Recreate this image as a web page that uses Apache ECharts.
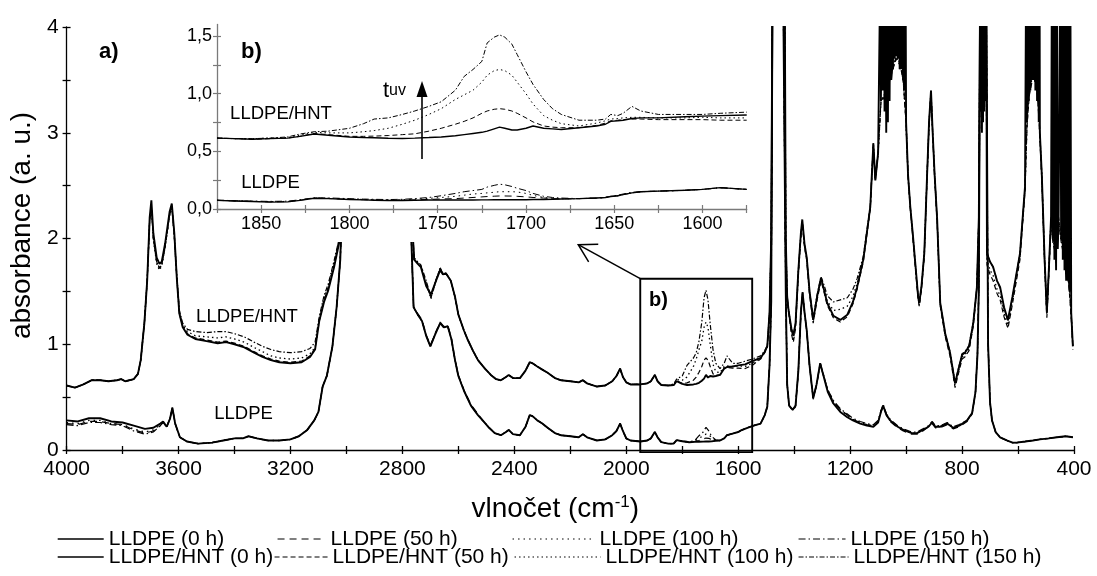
<!DOCTYPE html>
<html><head><meta charset="utf-8">
<script src="https://cdn.jsdelivr.net/npm/echarts@6/dist/echarts.min.js"></script>
<style>html,body{margin:0;padding:0;background:#fff}#c{width:1097px;height:576px}</style>
</head><body><div id="c"></div>
<script>
const FONT = "'Liberation Sans', Arial, Helvetica, sans-serif";

const seriesNames = ['LLDPE (0 h)','LLDPE (50 h)','LLDPE (100 h)','LLDPE (150 h)',
  'LLDPE/HNT (0 h)','LLDPE/HNT (50 h)','LLDPE/HNT (100 h)','LLDPE/HNT (150 h)'];

// ---------- main panel a): LLDPE spectra ----------
const wnL = [4000,3960,3920,3880,3840,3800,3760,3720,3690,3665,
 3655,3642,3630,3622,3612,3595,3570,3530,3480,3440,
 3400,3370,3350,3320,3280,3240,3200,3170,3140,3115,
 3100,3085,3070,3050,3035,3022,3012,3000,2900,2800,
 2775,2768,2760,2745,2730,2715,2700,2685,2665,2652,
 2638,2625,2612,2600,2580,2555,2530,2510,2490,2470,
 2448,2430,2420,2405,2380,2360,2345,2335,2318,2300,
 2281,2255,2234,2200,2170,2155,2140,2105,2075,2050,
 2035,2022,2012,2000,1985,1950,1925,1912,1898,1888,
 1875,1850,1830,1820,1800,1775,1755,1740,1725,1715,
 1705,1695,1680,1665,1650,1640,1620,1600,1590,1567,
 1545,1520,1505,1496,1488,1482,1477,1440,1434,1430,
 1425,1418,1405,1395,1385,1376,1370,1362,1355,1345,
 1332,1320,1307,1295,1280,1260,1235,1210,1190,1164,
 1140,1117,1100,1090,1082,1070,1057,1030,1010,980,
 961,940,920,907,895,878,853,832,810,782,
 764,752,745,740,735,714,707,700,693,680,
 664,640,620,604,575,547,522,490,461,430,
 404];
const lldpe0 = [0.28,0.27,0.30,0.30,0.27,0.26,0.23,0.20,0.21,0.25,
 0.27,0.22,0.30,0.40,0.25,0.12,0.08,0.06,0.07,0.09,
 0.11,0.11,0.13,0.11,0.09,0.09,0.10,0.13,0.19,0.28,
 0.36,0.60,0.70,0.98,1.35,1.80,2.60,4.6,4.6,4.6,
 4.6,2.0,1.35,1.28,1.22,1.08,0.98,1.08,1.20,1.16,
 1.17,1.05,0.85,0.70,0.56,0.42,0.33,0.27,0.21,0.16,
 0.14,0.17,0.19,0.15,0.14,0.22,0.33,0.32,0.28,0.25,
 0.21,0.16,0.14,0.13,0.12,0.15,0.12,0.09,0.10,0.14,
 0.18,0.25,0.18,0.11,0.09,0.08,0.09,0.11,0.17,0.12,
 0.075,0.06,0.062,0.093,0.083,0.073,0.077,0.078,0.079,0.08,
 0.08,0.082,0.087,0.09,0.11,0.14,0.155,0.17,0.185,0.21,
 0.23,0.25,0.33,0.41,0.80,1.40,4.6,4.6,4.6,1.50,
 0.62,0.42,0.38,0.42,0.75,1.30,1.49,1.28,1.13,0.80,
 0.49,0.62,0.82,0.70,0.55,0.44,0.36,0.31,0.28,0.25,
 0.23,0.22,0.26,0.36,0.42,0.33,0.28,0.22,0.19,0.16,
 0.16,0.19,0.22,0.26,0.22,0.22,0.25,0.21,0.23,0.28,
 0.35,0.55,0.90,1.54,4.6,4.6,1.0,0.45,0.28,0.17,
 0.12,0.09,0.07,0.07,0.08,0.09,0.10,0.11,0.12,0.13,
 0.12];
const lldpe50 = [0.25,0.24,0.27,0.27,0.25,0.24,0.19,0.16,0.18,0.23,
 0.26,0.22,0.30,0.40,0.25,0.12,0.08,0.06,0.07,0.09,
 0.11,0.11,0.13,0.11,0.09,0.09,0.10,0.13,0.19,0.28,
 0.36,0.60,0.70,0.98,1.35,1.80,2.60,4.6,4.6,4.6,
 4.6,2.0,1.36,1.29,1.23,1.09,0.99,1.09,1.21,1.17,
 1.18,1.06,0.86,0.71,0.57,0.43,0.34,0.27,0.21,0.16,
 0.14,0.17,0.19,0.15,0.14,0.22,0.33,0.32,0.28,0.25,
 0.21,0.16,0.14,0.13,0.12,0.15,0.12,0.09,0.10,0.14,
 0.18,0.25,0.18,0.11,0.09,0.08,0.09,0.11,0.17,0.12,
 0.075,0.06,0.062,0.093,0.083,0.075,0.082,0.09,0.105,0.113,
 0.11,0.10,0.09,0.09,0.11,0.14,0.155,0.17,0.185,0.21,
 0.23,0.25,0.33,0.41,0.80,1.40,4.6,4.6,4.6,1.50,
 0.62,0.42,0.37,0.41,0.74,1.29,1.48,1.27,1.12,0.79,
 0.48,0.61,0.81,0.70,0.56,0.46,0.38,0.33,0.29,0.26,
 0.24,0.23,0.27,0.36,0.41,0.33,0.27,0.21,0.18,0.15,
 0.15,0.18,0.22,0.25,0.21,0.21,0.24,0.20,0.22,0.27,
 0.34,0.55,0.90,1.54,4.6,4.6,1.0,0.45,0.28,0.17,
 0.12,0.09,0.07,0.07,0.08,0.09,0.10,0.11,0.12,0.13,
 0.12];
const lldpe100 = [0.26,0.25,0.28,0.28,0.25,0.24,0.20,0.17,0.19,0.24,
 0.26,0.22,0.30,0.40,0.25,0.12,0.08,0.06,0.07,0.09,
 0.11,0.11,0.13,0.11,0.09,0.09,0.10,0.13,0.19,0.28,
 0.36,0.60,0.70,0.98,1.35,1.80,2.60,4.6,4.6,4.6,
 4.6,2.0,1.35,1.28,1.22,1.08,0.98,1.08,1.20,1.16,
 1.17,1.05,0.85,0.70,0.56,0.42,0.33,0.27,0.21,0.16,
 0.14,0.17,0.19,0.15,0.14,0.22,0.33,0.32,0.28,0.25,
 0.21,0.16,0.14,0.13,0.12,0.15,0.12,0.09,0.10,0.14,
 0.18,0.25,0.18,0.11,0.09,0.08,0.09,0.11,0.17,0.12,
 0.075,0.06,0.062,0.093,0.083,0.075,0.085,0.11,0.135,0.15,
 0.148,0.115,0.09,0.09,0.11,0.14,0.155,0.17,0.185,0.21,
 0.23,0.25,0.33,0.41,0.80,1.40,4.6,4.6,4.6,1.50,
 0.62,0.42,0.38,0.42,0.75,1.30,1.49,1.28,1.13,0.80,
 0.49,0.62,0.82,0.71,0.57,0.46,0.38,0.33,0.29,0.26,
 0.24,0.23,0.27,0.37,0.42,0.34,0.28,0.22,0.19,0.16,
 0.16,0.19,0.22,0.26,0.22,0.22,0.25,0.21,0.23,0.28,
 0.35,0.55,0.90,1.54,4.6,4.6,1.0,0.45,0.28,0.17,
 0.12,0.09,0.07,0.07,0.08,0.09,0.10,0.11,0.12,0.13,
 0.12];
const lldpe150 = [0.24,0.23,0.26,0.26,0.24,0.23,0.18,0.15,0.17,0.23,
 0.26,0.22,0.30,0.40,0.25,0.12,0.08,0.06,0.07,0.09,
 0.11,0.11,0.13,0.11,0.09,0.09,0.10,0.13,0.19,0.28,
 0.36,0.60,0.70,0.98,1.35,1.80,2.60,4.6,4.6,4.6,
 4.6,2.0,1.35,1.28,1.22,1.08,0.98,1.08,1.20,1.16,
 1.17,1.05,0.85,0.70,0.56,0.42,0.33,0.27,0.21,0.16,
 0.14,0.17,0.19,0.15,0.14,0.22,0.33,0.32,0.28,0.25,
 0.21,0.16,0.14,0.13,0.12,0.15,0.12,0.09,0.10,0.14,
 0.18,0.25,0.18,0.11,0.09,0.08,0.09,0.11,0.17,0.12,
 0.075,0.06,0.062,0.095,0.085,0.078,0.09,0.135,0.17,0.215,
 0.18,0.13,0.095,0.09,0.11,0.14,0.155,0.17,0.185,0.21,
 0.23,0.25,0.33,0.41,0.80,1.40,4.6,4.6,4.6,1.50,
 0.62,0.42,0.38,0.42,0.75,1.30,1.49,1.28,1.13,0.80,
 0.49,0.62,0.82,0.71,0.57,0.47,0.39,0.34,0.30,0.27,
 0.25,0.24,0.28,0.37,0.43,0.34,0.29,0.23,0.20,0.17,
 0.17,0.20,0.23,0.27,0.23,0.23,0.26,0.22,0.24,0.28,
 0.35,0.55,0.90,1.54,4.6,4.6,1.0,0.45,0.28,0.17,
 0.12,0.09,0.07,0.07,0.08,0.09,0.10,0.11,0.12,0.13,
 0.12];

// ---------- main panel a): LLDPE/HNT spectra ----------
const wnH = [4000,3970,3940,3910,3880,3850,3820,3805,3790,3760,
 3745,3735,3722,3712,3703,3697,3690,3678,3668,3660,
 3648,3632,3624,3615,3606,3597,3585,3568,3540,3500,
 3460,3430,3400,3365,3330,3300,3270,3240,3200,3160,
 3130,3112,3097,3080,3065,3044,3026,3010,3000,2900,
 2800,2780,2770,2758,2745,2734,2715,2698,2680,2665,
 2655,2644,2627,2612,2600,2580,2566,2548,2530,2505,
 2484,2465,2448,2430,2420,2405,2380,2360,2345,2335,
 2318,2300,2281,2255,2234,2200,2170,2155,2140,2105,
 2075,2050,2035,2022,2012,2000,1985,1950,1925,1912,
 1898,1888,1875,1850,1830,1820,1800,1783,1760,1750,
 1740,1730,1722,1715,1708,1700,1690,1680,1665,1650,
 1640,1620,1600,1575,1550,1520,1505,1496,1488,1482,
 1477,1434,1430,1425,1420,1410,1403,1395,1385,1376,
 1371,1363,1355,1345,1332,1318,1304,1292,1282,1260,
 1235,1210,1190,1175,1153,1128,1117,1110,1100,1090,
 1070,1050,1035,1020,1010,1000,993,985,975,965,
 957,953,945,935,925,918,911,905,898,889,
 878,860,843,825,815,800,790,775,760,747,
 740,735,714,711,700,689,675,664,650,636,
 620,593,575,568,560,545,530,522,515,505,
 497,490,482,475,465,455,445,430,418,410,
 404];
const hnt0 = [0.61,0.59,0.62,0.66,0.66,0.65,0.66,0.67,0.65,0.67,
 0.72,0.85,1.20,1.60,2.20,2.36,2.05,1.82,1.76,1.78,
 1.95,2.25,2.33,2.05,1.62,1.29,1.16,1.09,1.05,1.03,
 1.01,1.02,1.00,0.97,0.92,0.88,0.85,0.83,0.82,0.83,
 0.88,0.95,1.22,1.40,1.51,1.73,1.96,2.8,4.6,4.6,
 4.6,4.6,2.4,1.80,1.76,1.73,1.55,1.47,1.60,1.70,
 1.66,1.67,1.60,1.45,1.28,1.13,1.04,0.94,0.85,0.77,
 0.71,0.67,0.66,0.69,0.71,0.68,0.68,0.75,0.83,0.82,
 0.79,0.76,0.73,0.68,0.66,0.65,0.64,0.66,0.63,0.60,
 0.61,0.65,0.70,0.77,0.69,0.64,0.62,0.62,0.63,0.65,
 0.71,0.65,0.615,0.61,0.615,0.65,0.625,0.615,0.62,0.625,
 0.635,0.655,0.675,0.71,0.685,0.70,0.695,0.70,0.71,0.77,
 0.785,0.79,0.80,0.81,0.84,0.87,0.93,0.98,1.30,2.0,
 4.6,4.6,2.0,1.45,1.32,1.15,1.08,1.20,1.70,2.05,
 2.18,1.95,1.82,1.50,1.23,1.45,1.63,1.50,1.39,1.27,
 1.23,1.28,1.40,1.54,1.80,2.30,2.90,2.55,2.81,3.30,
 3.40,3.60,3.72,3.65,3.50,3.10,2.60,2.30,2.01,1.70,
 1.45,1.39,1.55,1.86,2.60,3.10,3.40,3.00,2.60,2.18,
 1.39,1.10,0.92,0.63,0.74,0.90,0.92,0.98,1.20,1.54,
 2.2,4.6,4.6,1.86,1.78,1.73,1.60,1.54,1.35,1.23,
 1.45,1.86,2.49,3.1,3.4,3.6,3.4,3.0,2.6,1.8,
 1.30,1.7,2.2,2.0,1.9,2.2,2.0,1.8,1.6,1.3,
 0.98];
const hnt50 = [0.61,0.59,0.62,0.66,0.66,0.65,0.66,0.67,0.65,0.67,
 0.72,0.85,1.20,1.60,2.18,2.30,2.00,1.78,1.72,1.75,
 1.92,2.22,2.30,2.02,1.62,1.29,1.17,1.10,1.06,1.04,
 1.02,1.03,1.01,0.98,0.93,0.89,0.86,0.84,0.83,0.84,
 0.89,0.96,1.22,1.42,1.53,1.75,1.98,2.8,4.6,4.6,
 4.6,4.6,2.4,1.80,1.77,1.74,1.57,1.44,1.60,1.72,
 1.67,1.67,1.60,1.45,1.28,1.13,1.04,0.94,0.85,0.77,
 0.71,0.67,0.66,0.69,0.71,0.68,0.68,0.75,0.83,0.82,
 0.79,0.76,0.73,0.68,0.66,0.65,0.64,0.66,0.63,0.60,
 0.61,0.65,0.70,0.77,0.69,0.64,0.62,0.62,0.63,0.65,
 0.71,0.65,0.615,0.61,0.615,0.655,0.63,0.635,0.66,0.69,
 0.735,0.79,0.85,0.87,0.85,0.79,0.72,0.705,0.71,0.775,
 0.78,0.775,0.775,0.77,0.80,0.86,0.92,0.97,1.28,2.0,
 4.6,4.6,2.0,1.43,1.30,1.10,1.02,1.15,1.66,2.02,
 2.14,1.92,1.79,1.47,1.20,1.42,1.60,1.48,1.37,1.25,
 1.21,1.26,1.38,1.52,1.78,2.28,2.88,2.55,2.80,3.28,
 3.38,3.58,3.70,3.63,3.48,3.08,2.58,2.28,1.98,1.66,
 1.42,1.36,1.52,1.83,2.58,3.08,3.38,2.98,2.58,2.15,
 1.36,1.07,0.89,0.59,0.70,0.86,0.88,0.94,1.17,1.52,
 2.2,4.6,4.6,1.75,1.66,1.60,1.48,1.42,1.26,1.15,
 1.38,1.80,2.45,3.05,3.35,3.55,3.35,2.95,2.55,1.75,
 1.25,1.65,2.15,1.95,1.85,2.15,1.95,1.75,1.55,1.25,
 0.95];
const hnt100 = [0.61,0.59,0.62,0.66,0.66,0.65,0.66,0.67,0.65,0.67,
 0.72,0.85,1.20,1.60,2.18,2.30,2.00,1.76,1.70,1.74,
 1.92,2.22,2.30,2.02,1.63,1.30,1.18,1.12,1.08,1.07,
 1.06,1.07,1.05,1.02,0.97,0.93,0.89,0.87,0.86,0.87,
 0.91,0.97,1.24,1.44,1.55,1.77,2.0,2.8,4.6,4.6,
 4.6,4.6,2.4,1.80,1.77,1.74,1.58,1.43,1.60,1.72,
 1.67,1.67,1.60,1.45,1.28,1.13,1.04,0.94,0.85,0.77,
 0.71,0.67,0.66,0.69,0.71,0.68,0.68,0.75,0.83,0.82,
 0.79,0.76,0.73,0.68,0.66,0.65,0.64,0.66,0.63,0.60,
 0.61,0.65,0.70,0.77,0.69,0.64,0.62,0.62,0.63,0.65,
 0.71,0.65,0.615,0.61,0.62,0.665,0.66,0.69,0.79,0.86,
 0.95,1.03,1.16,1.21,1.16,1.00,0.81,0.74,0.73,0.79,
 0.795,0.79,0.795,0.79,0.82,0.87,0.93,0.98,1.29,2.0,
 4.6,4.6,2.0,1.44,1.31,1.12,1.05,1.18,1.68,2.03,
 2.16,1.93,1.80,1.49,1.22,1.44,1.62,1.52,1.41,1.32,
 1.33,1.36,1.45,1.58,1.80,2.29,2.89,2.55,2.80,3.29,
 3.39,3.59,3.71,3.64,3.49,3.09,2.59,2.29,2.0,1.68,
 1.44,1.37,1.53,1.85,2.59,3.09,3.39,2.99,2.59,2.17,
 1.37,1.08,0.90,0.61,0.72,0.88,0.90,0.96,1.19,1.53,
 2.2,4.6,4.6,1.80,1.70,1.65,1.52,1.46,1.29,1.18,
 1.41,1.83,2.47,3.08,3.38,3.58,3.38,2.98,2.58,1.78,
 1.28,1.68,2.18,1.98,1.88,2.18,1.98,1.78,1.58,1.28,
 0.97];
const hnt150 = [0.61,0.59,0.62,0.66,0.66,0.65,0.66,0.67,0.65,0.67,
 0.72,0.85,1.20,1.60,2.18,2.30,2.00,1.78,1.72,1.75,
 1.92,2.22,2.30,2.03,1.65,1.32,1.20,1.14,1.12,1.11,
 1.12,1.12,1.10,1.07,1.02,0.98,0.95,0.93,0.92,0.93,
 0.96,1.02,1.26,1.46,1.57,1.79,2.0,2.8,4.6,4.6,
 4.6,4.6,2.4,1.82,1.78,1.75,1.60,1.45,1.61,1.72,
 1.67,1.67,1.60,1.45,1.28,1.13,1.04,0.94,0.85,0.77,
 0.71,0.67,0.66,0.69,0.71,0.68,0.68,0.75,0.83,0.82,
 0.79,0.76,0.73,0.68,0.66,0.65,0.64,0.66,0.63,0.60,
 0.61,0.65,0.70,0.77,0.69,0.64,0.62,0.62,0.63,0.65,
 0.71,0.65,0.615,0.61,0.625,0.67,0.70,0.80,0.87,0.92,
 1.03,1.21,1.44,1.51,1.42,1.19,0.95,0.82,0.77,0.82,
 0.89,0.82,0.82,0.84,0.86,0.89,0.94,0.99,1.30,2.0,
 4.6,4.6,2.0,1.46,1.33,1.14,1.08,1.20,1.70,2.04,
 2.17,1.94,1.81,1.50,1.25,1.47,1.64,1.55,1.46,1.40,
 1.42,1.44,1.52,1.62,1.83,2.31,2.90,2.56,2.81,3.30,
 3.40,3.60,3.72,3.65,3.50,3.10,2.60,2.30,2.01,1.70,
 1.45,1.39,1.55,1.86,2.60,3.10,3.40,3.00,2.60,2.18,
 1.39,1.10,0.93,0.64,0.75,0.91,0.93,0.99,1.21,1.54,
 2.2,4.6,4.6,1.86,1.78,1.73,1.60,1.53,1.34,1.22,
 1.44,1.86,2.49,3.1,3.4,3.6,3.4,3.0,2.6,1.8,
 1.30,1.7,2.2,2.0,1.9,2.2,2.0,1.8,1.6,1.3,
 0.98];
// saturated, noisy LLDPE/HNT (0 h) bands, read as upper/lower envelope of the black areas
const noiseWn = [1092,1089,1086,1083,1080,1077,1074,1071,1068,1065,1062,1059,1056,1053,1050,1047,1044,1041,1038,1035,1032,1029,1026,1023,1020,1017,1014,1011,1008,1005,1002,
 733,731,729,727,725,723,721,719,717,
 571,568,565,562,559,556,553,550,547,544,541,538,535,532,529,526,523,
 479,476,473,470,467,464,461,458,449,446,443,440,437,434,431,428,425,422,419,416,413,410];
const noiseAbs = [4.6,3.3,4.6,3.4,4.6,3.2,4.6,3.0,4.6,3.1,4.6,3.3,4.6,3.5,4.6,3.6,4.6,3.7,4.6,3.8,4.6,3.7,4.6,3.6,4.6,3.6,4.6,3.5,4.6,3.4,4.6,
 3.2,4.6,3.0,4.6,3.1,4.6,3.2,4.6,3.3,
 4.6,3.1,4.6,3.3,4.6,3.4,4.6,3.5,4.6,3.5,4.6,3.4,4.6,3.3,4.6,3.1,4.6,
 4.6,2.0,4.6,1.8,4.6,1.7,4.6,1.9,4.6,2.0,4.6,1.8,4.6,1.7,4.6,1.6,4.6,1.6,4.6,1.5,4.6,1.3];

// ---------- inset b): carbonyl region ----------
const wnI = [1875,1865,1855,1845,1835,1828,1820,1812,1800,1792,
 1786,1778,1770,1763,1755,1748,1740,1735,1730,1725,
 1722,1718,1715,1712,1708,1705,1700,1696,1690,1685,
 1680,1670,1660,1655,1652,1648,1645,1640,1635,1625,
 1610,1600,1590,1575];
const iL0 = [0.075,0.07,0.065,0.06,0.062,0.075,0.093,0.09,0.083,0.079,
 0.076,0.073,0.074,0.076,0.078,0.078,0.078,0.078,0.078,0.079,
 0.079,0.08,0.08,0.08,0.08,0.08,0.08,0.082,0.083,0.085,
 0.087,0.09,0.095,0.10,0.108,0.115,0.125,0.14,0.15,0.155,
 0.162,0.17,0.185,0.17];
const iL50 = [0.075,0.07,0.066,0.062,0.064,0.076,0.094,0.091,0.084,0.080,
 0.078,0.076,0.077,0.079,0.083,0.087,0.09,0.095,0.10,0.105,
 0.108,0.111,0.113,0.113,0.112,0.11,0.105,0.10,0.095,0.09,
 0.088,0.09,0.095,0.10,0.108,0.115,0.125,0.14,0.15,0.155,
 0.162,0.17,0.185,0.17];
const iL100 = [0.076,0.071,0.067,0.064,0.066,0.078,0.095,0.093,0.087,0.083,
 0.081,0.079,0.081,0.085,0.092,0.10,0.11,0.12,0.13,0.135,
 0.14,0.145,0.15,0.15,0.15,0.148,0.135,0.118,0.10,0.092,
 0.088,0.09,0.095,0.10,0.108,0.115,0.125,0.14,0.15,0.155,
 0.162,0.17,0.185,0.17];
const iL150 = [0.077,0.072,0.068,0.066,0.068,0.08,0.097,0.096,0.09,0.086,
 0.084,0.082,0.084,0.09,0.10,0.115,0.135,0.15,0.16,0.17,
 0.19,0.205,0.215,0.21,0.195,0.18,0.16,0.135,0.11,0.10,
 0.095,0.09,0.095,0.10,0.11,0.12,0.13,0.145,0.15,0.155,
 0.162,0.17,0.185,0.17];
const iH0 = [0.615,0.61,0.605,0.61,0.615,0.63,0.65,0.64,0.625,0.62,
 0.618,0.613,0.612,0.615,0.62,0.625,0.635,0.645,0.655,0.665,
 0.675,0.695,0.71,0.70,0.685,0.685,0.70,0.72,0.70,0.695,
 0.69,0.705,0.72,0.735,0.76,0.765,0.77,0.785,0.79,0.79,
 0.80,0.805,0.81,0.815];
const iH50 = [0.615,0.61,0.605,0.61,0.615,0.63,0.655,0.645,0.63,0.63,
 0.632,0.637,0.645,0.652,0.675,0.70,0.735,0.76,0.79,0.83,
 0.85,0.865,0.87,0.865,0.85,0.83,0.79,0.755,0.72,0.71,
 0.705,0.705,0.725,0.745,0.765,0.77,0.775,0.78,0.78,0.775,
 0.775,0.775,0.77,0.77];
const iH100 = [0.615,0.61,0.61,0.615,0.62,0.64,0.665,0.66,0.66,0.67,
 0.68,0.70,0.735,0.77,0.82,0.87,0.95,0.99,1.03,1.10,
 1.16,1.20,1.21,1.20,1.16,1.10,1.00,0.91,0.81,0.77,
 0.74,0.72,0.745,0.765,0.78,0.785,0.79,0.795,0.795,0.79,
 0.79,0.795,0.79,0.79];
const iH150 = [0.615,0.61,0.61,0.615,0.625,0.65,0.67,0.675,0.70,0.74,
 0.78,0.79,0.82,0.85,0.89,0.93,1.03,1.15,1.21,1.28,
 1.44,1.49,1.51,1.49,1.43,1.34,1.19,1.08,0.95,0.87,
 0.82,0.77,0.77,0.78,0.82,0.81,0.83,0.89,0.85,0.82,
 0.82,0.82,0.83,0.84];

// region of panel a) shown enlarged in b)
const zoomBox = {from: 1950, to: 1550, top: 1.62, bottom: -0.02};

// ---------- build ----------
function pairs(wn, v) { return wn.map((w, i) => [w, v[i]]); }
function withNoise(wn, v, nw, nv) {
  const a = pairs(wn, v).concat(pairs(nw, nv));
  a.sort((p, q) => q[0] - p[0]);
  return a;
}
const mainData = {
  'LLDPE (0 h)': pairs(wnL, lldpe0), 'LLDPE (50 h)': pairs(wnL, lldpe50),
  'LLDPE (100 h)': pairs(wnL, lldpe100), 'LLDPE (150 h)': pairs(wnL, lldpe150),
  'LLDPE/HNT (0 h)': withNoise(wnH, hnt0, noiseWn, noiseAbs), 'LLDPE/HNT (50 h)': pairs(wnH, hnt50),
  'LLDPE/HNT (100 h)': pairs(wnH, hnt100), 'LLDPE/HNT (150 h)': pairs(wnH, hnt150)
};
const insetData = {
  'LLDPE (0 h)': pairs(wnI, iL0), 'LLDPE (50 h)': pairs(wnI, iL50),
  'LLDPE (100 h)': pairs(wnI, iL100), 'LLDPE (150 h)': pairs(wnI, iL150),
  'LLDPE/HNT (0 h)': pairs(wnI, iH0), 'LLDPE/HNT (50 h)': pairs(wnI, iH50),
  'LLDPE/HNT (100 h)': pairs(wnI, iH100), 'LLDPE/HNT (150 h)': pairs(wnI, iH150)
};
const lineStyles = {
  'LLDPE (0 h)': {type: 'solid', width: 1.9, solid: true},
  'LLDPE (50 h)': {type: [7, 5], width: 1.2},
  'LLDPE (100 h)': {type: [1.5, 4], width: 1.3},
  'LLDPE (150 h)': {type: [7, 3, 1.5, 3], width: 1.2},
  'LLDPE/HNT (0 h)': {type: 'solid', width: 1.9, solid: true},
  'LLDPE/HNT (50 h)': {type: [5, 3], width: 1.2},
  'LLDPE/HNT (100 h)': {type: [1.5, 3], width: 1.3},
  'LLDPE/HNT (150 h)': {type: [5, 2, 1.5, 2], width: 1.2}
};
const series = [];
seriesNames.forEach(n => {
  const ls = lineStyles[n];
  series.push({name: n, type: 'line', xAxisIndex: 0, yAxisIndex: 0, data: mainData[n],
    symbol: 'none', showSymbol: false, silent: true, z: 2,
    lineStyle: {color: '#000', width: ls.width, type: ls.type}});
  series.push({name: n, type: 'line', xAxisIndex: 2, yAxisIndex: 2, data: insetData[n],
    symbol: 'none', showSymbol: false, silent: true, z: 6,
    lineStyle: {color: '#000', width: ls.solid ? 1.4 : 1.0, type: ls.type}});
});

const legendLayout = [
  {name: 'LLDPE (0 h)', left: 57, top: 528.5, w: 46},
  {name: 'LLDPE (50 h)', left: 277, top: 528.5, w: 48},
  {name: 'LLDPE (100 h)', left: 512, top: 528.5, w: 82},
  {name: 'LLDPE (150 h)', left: 798, top: 528.5, w: 47},
  {name: 'LLDPE/HNT (0 h)', left: 57, top: 546.5, w: 46},
  {name: 'LLDPE/HNT (50 h)', left: 274, top: 546.5, w: 53},
  {name: 'LLDPE/HNT (100 h)', left: 514, top: 546.5, w: 86},
  {name: 'LLDPE/HNT (150 h)', left: 798, top: 546.5, w: 50}
];
const legends = legendLayout.map(p => ({
  data: [p.name], left: p.left, top: p.top, orient: 'horizontal',
  itemWidth: p.w, itemHeight: 10, itemGap: 0, padding: 0, selectedMode: false,
  textStyle: {fontSize: 21, color: '#000', fontFamily: FONT},
  itemStyle: {opacity: 0},
  lineStyle: {color: '#000', width: lineStyles[p.name].solid ? 1.4 : 1.1, type: lineStyles[p.name].type}
}));

const black = '#000', grey = '#7a7a7a';
const option = {
  animation: false,
  backgroundColor: '#fff',
  textStyle: {fontFamily: FONT},
  grid: [
    {left: 65, top: 27, width: 1009, height: 423},
    {left: 217, top: 24.5, width: 529.7, height: 184.5}
  ],
  legend: legends,
  xAxis: [
    {gridIndex: 0, type: 'value', min: 400, max: 4000, interval: 200, inverse: true, position: 'bottom',
     axisLine: {lineStyle: {color: black, width: 1.3}},
     axisTick: {length: 4, lineStyle: {color: black, width: 1.3}},
     axisLabel: {margin: 9, color: black, fontSize: 21, fontFamily: FONT, formatter: v => (v % 400 === 0 ? String(v) : '')},
     splitLine: {show: false},
     name: '{a|vlnočet (cm}{s|-1}{a|)}', nameLocation: 'middle', nameGap: 44,
     nameTextStyle: {color: black, padding: [0, 30, 0, 0], rich: {
       a: {fontSize: 28, fontFamily: FONT, color: black, lineHeight: 30},
       s: {fontSize: 17, fontFamily: FONT, color: black, verticalAlign: 'top', lineHeight: 17}}}},
    {gridIndex: 0, type: 'value', min: 400, max: 4000, interval: 200, inverse: true, position: 'bottom',
     axisLine: {show: false}, axisTick: {inside: true, length: 4, lineStyle: {color: black, width: 1.3}},
     axisLabel: {show: false}, splitLine: {show: false}},
    {gridIndex: 1, type: 'value', min: 1575, max: 1875, interval: 25, inverse: true, position: 'bottom', z: 6,
     axisLine: {lineStyle: {color: grey, width: 1.3}},
     axisTick: {length: 4, lineStyle: {color: grey, width: 1.2}},
     axisLabel: {margin: 6, color: black, fontSize: 18, fontFamily: FONT, formatter: v => (v % 50 === 0 && v !== 1875 && v !== 1575 ? String(v) : '')},
     splitLine: {show: false}},
    {gridIndex: 1, type: 'value', min: 1575, max: 1875, interval: 25, inverse: true, position: 'bottom', z: 6,
     axisLine: {show: false}, axisTick: {inside: true, length: 4, lineStyle: {color: grey, width: 1.2}},
     axisLabel: {show: false}, splitLine: {show: false}}
  ],
  yAxis: [
    {gridIndex: 0, type: 'value', min: 0, max: 4, interval: 0.5, position: 'left',
     axisLine: {show: true, lineStyle: {color: black, width: 1.3}},
     axisTick: {show: true, length: 4, lineStyle: {color: black, width: 1.3}},
     axisLabel: {margin: 8, color: black, fontSize: 21, fontFamily: FONT, formatter: v => (Math.abs(v - Math.round(v)) < 1e-6 ? String(Math.round(v)) : '')},
     splitLine: {show: false},
     name: 'absorbance (a. u.)', nameLocation: 'middle', nameGap: 27,
     nameTextStyle: {fontSize: 28, color: black, fontFamily: FONT, padding: [0, 0, 0, 26]}},
    {gridIndex: 0, type: 'value', min: 0, max: 4, interval: 0.5, position: 'left',
     axisLine: {show: false}, axisTick: {show: true, inside: true, length: 4, lineStyle: {color: black, width: 1.3}},
     axisLabel: {show: false}, splitLine: {show: false}},
    {gridIndex: 1, type: 'value', min: 0, max: 1.6, interval: 0.25, position: 'left', z: 6,
     axisLine: {show: true, lineStyle: {color: grey, width: 1.3}},
     axisTick: {show: true, length: 4, lineStyle: {color: grey, width: 1.2}, customValues: [0, 0.25, 0.5, 0.75, 1, 1.25, 1.5]},
     axisLabel: {margin: 5, color: black, fontSize: 18, fontFamily: FONT, customValues: [0, 0.5, 1, 1.5],
       formatter: v => (Math.abs(v * 2 - Math.round(v * 2)) < 1e-6 && v <= 1.5 ? v.toFixed(1).replace('.', ',') : '')},
     splitLine: {show: false}},
    {gridIndex: 1, type: 'value', min: 0, max: 1.6, interval: 0.25, position: 'left', z: 6,
     axisLine: {show: false}, axisTick: {show: true, inside: true, length: 4, lineStyle: {color: grey, width: 1.2}, customValues: [0, 0.25, 0.5, 0.75, 1, 1.25, 1.5]},
     axisLabel: {show: false}, splitLine: {show: false}}
  ],
  series: series
};

const chart = echarts.init(document.getElementById('c'), null, {renderer: 'canvas'});
chart.setOption(option);

const tl = chart.convertToPixel({xAxisIndex: 0, yAxisIndex: 0}, [zoomBox.from, zoomBox.top]);
const br = chart.convertToPixel({xAxisIndex: 0, yAxisIndex: 0}, [zoomBox.to, zoomBox.bottom]);
const tip = [tl[0] - 62, tl[1] - 34];
const txt = (x, y, text, size, bold, align) => ({
  type: 'text', x: x, y: y, z: 8, silent: true,
  style: {text: text, fontSize: size, fontWeight: bold ? 'bold' : 'normal', fontFamily: FONT, fill: black,
    align: align || 'left', verticalAlign: 'middle'}
});
chart.setOption({
  graphic: [
    {type: 'rect', z: 3, silent: true, shape: {x: 182, y: 10, width: 580, height: 232}, style: {fill: '#fff'}},
    {type: 'rect', z: 4, silent: true, shape: {x: tl[0], y: tl[1], width: br[0] - tl[0], height: br[1] - tl[1]},
     style: {fill: 'none', stroke: black, lineWidth: 1.9}},
    {type: 'polyline', z: 4, silent: true, shape: {points: [[tl[0], tl[1]], tip]}, style: {stroke: black, lineWidth: 1.5, fill: 'none'}},
    {type: 'polyline', z: 4, silent: true, shape: {points: [[tip[0] + 20, tip[1] - 0.4], tip, [tip[0] + 10.4, tip[1] + 17.1]]},
     style: {stroke: black, lineWidth: 1.5, fill: 'none'}},
    txt(99, 52, 'a)', 22, true),
    txt(241, 52, 'b)', 22, true),
    txt(649, 300.5, 'b)', 20, true),
    txt(281, 113.5, 'LLDPE/HNT', 18.5, false, 'center'),
    txt(270.5, 183, 'LLDPE', 18.5, false, 'center'),
    txt(247, 316.5, 'LLDPE/HNT', 18.5, false, 'center'),
    txt(243.5, 414, 'LLDPE', 18.5, false, 'center'),
    {type: 'text', x: 383, y: 102, z: 8, silent: true,
     style: {text: '{t|t}{u|uv}', verticalAlign: 'bottom', align: 'left', fill: black,
       rich: {t: {fontSize: 22, fontFamily: FONT, fill: black}, u: {fontSize: 16, fontFamily: FONT, fill: black}}}},
    {type: 'line', z: 8, silent: true, shape: {x1: 422, y1: 159, x2: 422, y2: 95}, style: {stroke: black, lineWidth: 1.6}},
    {type: 'polygon', z: 8, silent: true, shape: {points: [[416.5, 97], [427.5, 97], [422, 81]]}, style: {fill: black}}
  ]
});
</script>
</body></html>
